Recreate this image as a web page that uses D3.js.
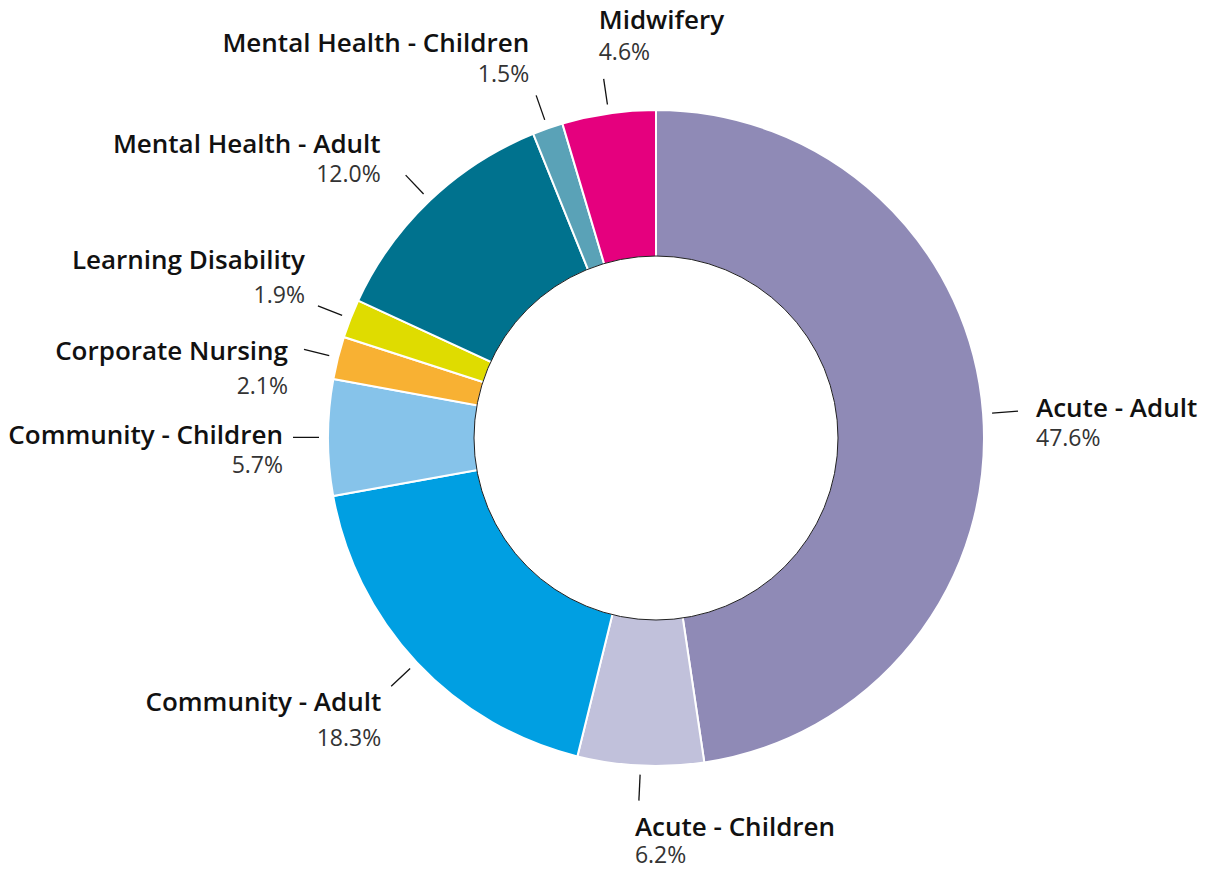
<!DOCTYPE html>
<html>
<head>
<meta charset="utf-8">
<script src="https://cdn.jsdelivr.net/npm/d3@7"></script>
<style>
  body { margin: 0; background: #fff; }
  svg { display: block; }
  .name { font-family: "Open Sans", sans-serif; font-weight: 600; font-size: 26px; fill: #111; }
  .pct { font-family: "Open Sans", sans-serif; font-weight: 400; font-size: 23px; fill: #333; }
</style>
</head>
<body>
<svg width="1206" height="869"></svg>
<script>
// data, clockwise from 12 o'clock
var categories = ["Acute - Adult", "Acute - Children", "Community - Adult", "Community - Children",
    "Corporate Nursing", "Learning Disability", "Mental Health - Adult", "Mental Health - Children", "Midwifery"];
var shares = [47.6, 6.2, 18.3, 5.7, 2.1, 1.9, 12.0, 1.5, 4.6];
var pctLabels = ["47.6%", "6.2%", "18.3%", "5.7%", "2.1%", "1.9%", "12.0%", "1.5%", "4.6%"];
var colours = ["#8f8ab6", "#c1c1db", "#009fe2", "#86c3ea", "#f8b133", "#dfdc00", "#00728e", "#5aa2b7", "#e5007e"];

// label offsets from the leader end: [dx, dy name, dy pct, anchor]
var labelPos = [
    [18, 6, 35, "start"],
    [-4, 35, 62, "start"],
    [-10, 25, 60, "end"],
    [-10, 7, 36, "end"],
    [-16, 11, 45, "end"],
    [-13, -37, -3, "end"],
    [-25, -22, 7, "end"],
    [-7, -43, -13, "end"],
    [-5, -50, -19, "start"]
];

var svg = d3.select("svg");
var cx = 656, cy = 438, outerR = 328, innerR = 182;

var data = categories.map(function(c, i) { return {name: c, value: shares[i], pct: pctLabels[i], i: i}; });

var pie = d3.pie().sort(null).value(function(d) { return d.value; });
var arcs = pie(data);

var arc = d3.arc().innerRadius(innerR - 5).outerRadius(outerR);
var color = d3.scaleOrdinal().domain(categories).range(colours);

var g = svg.append("g").attr("transform", "translate(" + cx + "," + cy + ")");

g.selectAll("path.slice")
    .data(arcs)
    .enter().append("path")
    .attr("class", "slice")
    .attr("d", arc)
    .attr("fill", function(d) { return color(d.data.name); })
    .attr("stroke", "#fff")
    .attr("stroke-width", 2);

g.append("circle")
    .attr("r", innerR)
    .attr("fill", "#fff")
    .attr("stroke", "#222")
    .attr("stroke-width", 1);

function pointAt(angle, r) {
    return [Math.sin(angle) * r, -Math.cos(angle) * r];
}

var labels = g.selectAll("g.lab")
    .data(arcs)
    .enter().append("g")
    .attr("class", "lab");

labels.append("line")
    .attr("x1", function(d) { return pointAt((d.startAngle + d.endAngle) / 2, outerR + 9)[0]; })
    .attr("y1", function(d) { return pointAt((d.startAngle + d.endAngle) / 2, outerR + 9)[1]; })
    .attr("x2", function(d) { return pointAt((d.startAngle + d.endAngle) / 2, outerR + 35)[0]; })
    .attr("y2", function(d) { return pointAt((d.startAngle + d.endAngle) / 2, outerR + 35)[1]; })
    .attr("stroke", "#111")
    .attr("stroke-width", 1.3);

labels.each(function(d) {
    var p = pointAt((d.startAngle + d.endAngle) / 2, outerR + 35);
    var lp = labelPos[d.data.i];
    var sel = d3.select(this);
    sel.append("text")
        .attr("class", "name")
        .attr("x", p[0] + lp[0])
        .attr("y", p[1] + lp[1])
        .attr("text-anchor", lp[3])
        .text(d.data.name);
    sel.append("text")
        .attr("class", "pct")
        .attr("x", p[0] + lp[0])
        .attr("y", p[1] + lp[2])
        .attr("text-anchor", lp[3])
        .text(d.data.pct);
});
</script>
</body>
</html>
